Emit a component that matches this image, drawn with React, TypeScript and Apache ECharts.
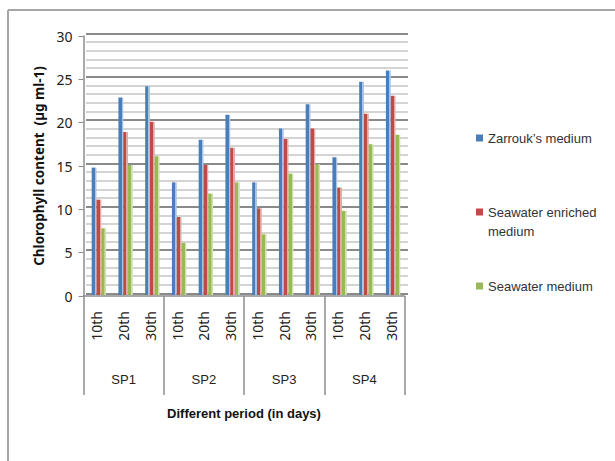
import React, { useEffect, useRef } from "react";
import * as echarts from "echarts";

const categories = ["10th", "20th", "30th", "10th", "20th", "30th", "10th", "20th", "30th", "10th", "20th", "30th"];
const groups = ["SP1", "SP2", "SP3", "SP4"];
const seriesNames = ["Zarrouk\u2019s medium", "Seawater enriched medium", "Seawater medium"];
const zarrouk = [14.7, 22.8, 24.1, 13.0, 17.9, 20.8, 13.0, 19.2, 22.0, 15.9, 24.6, 25.9];
const enriched = [11.0, 18.8, 20.0, 9.0, 15.0, 17.0, 10.0, 18.0, 19.2, 12.4, 20.9, 23.0];
const seawater = [7.7, 15.0, 16.0, 6.0, 11.7, 13.0, 7.0, 14.0, 15.1, 9.7, 17.4, 18.5];
const yMin = 0;
const yMax = 30;
const yMajor = 5;
const yMinor = 1;

const faceColors = ["#4a7ebb", "#be4b48", "#98b954"];
const sideColors = ["#a9c3e6", "#e3a9a7", "#cfe1ab"];

const NARROW = "'Liberation Sans Narrow', 'Liberation Sans', sans-serif";
const SANS = "'Noto Sans', sans-serif";

export default function App() {
  const ref = useRef<HTMLDivElement>(null);
  useEffect(() => {
    if (!ref.current) return;
    const chart = echarts.init(ref.current, null, { renderer: "svg" });
    const values = [zarrouk, enriched, seawater];
    const grad = (i: number) =>
      new echarts.graphic.LinearGradient(0, 0, 1, 0, [
        { offset: 0, color: faceColors[i] },
        { offset: 0.66, color: faceColors[i] },
        { offset: 0.68, color: sideColors[i] },
        { offset: 1, color: sideColors[i] },
      ]);
    chart.setOption({
      animation: false,
      backgroundColor: "#ffffff",
      graphic: [
        { type: "line", shape: { x1: 8, y1: 10, x2: 640, y2: 10 }, style: { stroke: "#a6a6a6", lineWidth: 2 } },
        { type: "line", shape: { x1: 8, y1: 10, x2: 8, y2: 480 }, style: { stroke: "#a6a6a6", lineWidth: 2 } },
      ],
      grid: [
        { left: 86, top: 33.3, width: 322, height: 260 },
        { left: 85.5, top: 35, width: 321, height: 260 },
        { left: 83.5, top: 36, width: 321, height: 260 },
      ],
      legend: {
        orient: "vertical",
        left: 476,
        top: 128.5,
        padding: 0,
        itemWidth: 7,
        itemHeight: 7,
        itemGap: 36,
        icon: "rect",
        formatter: (name: string) =>
          name === seriesNames[1] ? "\u00a0\nSeawater enriched\nmedium" : name,
        textStyle: { fontFamily: NARROW, fontSize: 13, lineHeight: 19, color: "#333333" },
        data: seriesNames.map((n, i) => ({
          name: n,
          itemStyle: { color: faceColors[i] },
        })),
      },
      xAxis: [
        { gridIndex: 0, type: "category", data: categories, show: false },
        { gridIndex: 1, type: "category", data: categories, show: false },
        {
          gridIndex: 2,
          type: "category",
          data: categories,
          position: "bottom",
          axisLine: { show: true, lineStyle: { color: "#8c8c8c", width: 1.5 } },
          axisTick: {
            show: true,
            interval: (index: number) => index % 3 === 0,
            length: 99,
            lineStyle: { color: "#8c8c8c", width: 1.5 },
          },
          axisLabel: {
            rotate: 90,
            margin: 15,
            interval: 0,
            fontFamily: SANS,
            fontSize: 14,
            color: "#222222",
          },
        },
        {
          gridIndex: 2,
          type: "category",
          data: groups,
          position: "bottom",
          axisLine: { show: false },
          axisTick: { show: false },
          axisLabel: { margin: 77, fontFamily: NARROW, fontSize: 13, color: "#222222" },
          name: "Different period (in days)",
          nameLocation: "middle",
          nameGap: 111,
          nameTextStyle: { fontFamily: NARROW, fontSize: 13, fontWeight: "bold", color: "#111111" },
        },
      ],
      yAxis: [
        {
          gridIndex: 0,
          type: "value",
          min: yMin,
          max: yMax,
          interval: yMinor,
          axisLine: { show: false },
          axisTick: { show: false },
          axisLabel: { show: false },
          splitLine: { show: true, lineStyle: { color: "#c6c6c6", width: 1.5 } },
        },
        {
          gridIndex: 0,
          type: "value",
          min: yMin,
          max: yMax,
          interval: yMajor,
          position: "left",
          axisLine: { show: false },
          axisTick: { show: false },
          axisLabel: { show: false },
          splitLine: { show: true, lineStyle: { color: "#8a8a8a", width: 2 } },
        },
        { gridIndex: 1, type: "value", min: yMin, max: yMax, show: false },
        {
          gridIndex: 2,
          type: "value",
          min: yMin,
          max: yMax,
          interval: yMajor,
          axisLine: { show: true, lineStyle: { color: "#8c8c8c", width: 1.5 } },
          axisTick: { show: true, length: 5, lineStyle: { color: "#8c8c8c" } },
          axisLabel: { margin: 11, fontFamily: SANS, fontSize: 14, color: "#222222" },
          splitLine: { show: false },
          name: "Chlorophyll content  (\u00b5g ml-1)",
          nameLocation: "middle",
          nameGap: 38,
          nameTextStyle: { fontFamily: SANS, fontSize: 13.5, fontWeight: "bold", color: "#111111" },
        },
      ],
      series: seriesNames.map((n, i) => ({
        name: n,
        type: "bar",
        xAxisIndex: 1,
        yAxisIndex: 2,
        data: values[i],
        barWidth: 4.8,
        barGap: "0%",
        itemStyle: { color: grad(i) },
      })),
    });
    return () => chart.dispose();
  }, []);
  return <div ref={ref} style={{ position: "absolute", left: 0, top: 0, width: 615, height: 461 }} />;
}
